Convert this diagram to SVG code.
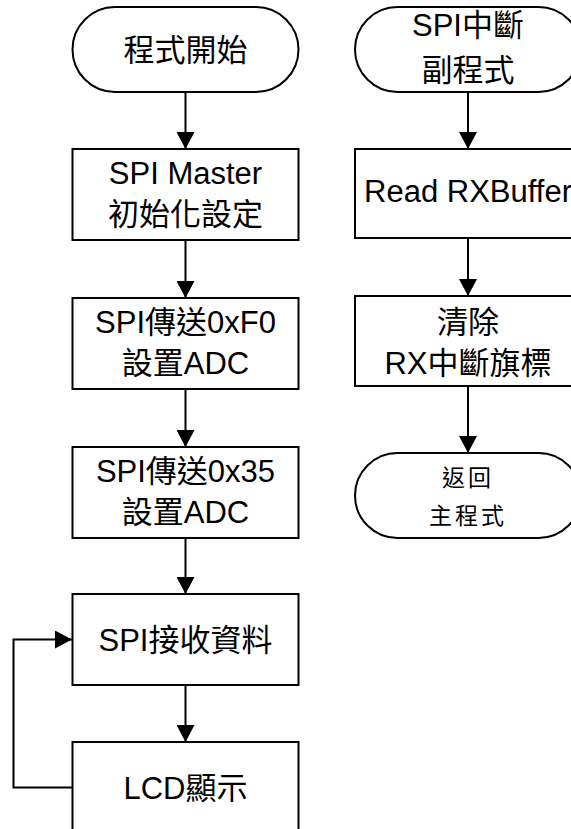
<svg xmlns="http://www.w3.org/2000/svg" width="571" height="829" viewBox="0 0 571 829">
<style>
.shape{fill:#fff;stroke:#000;stroke-width:2}
.t{font-family:"Liberation Sans","Noto Sans CJK TC",sans-serif;font-size:31px;fill:#000;text-anchor:middle}
.s{font-size:23px;letter-spacing:3px}
.c{fill:none;stroke:#000;stroke-width:2}
</style>
<defs>
<marker id="ah" markerWidth="18" markerHeight="18" refX="17" refY="9" orient="auto" markerUnits="userSpaceOnUse"><path d="M0,0 L17,9 L0,18 z" fill="#000"/></marker>
</defs>
<rect width="571" height="829" fill="#fff"/>
<g id="connectors">
<line class="c" x1="185.5" y1="92" x2="185.5" y2="149" marker-end="url(#ah)"/>
<line class="c" x1="185.5" y1="240" x2="185.5" y2="298" marker-end="url(#ah)"/>
<line class="c" x1="185.5" y1="389" x2="185.5" y2="447" marker-end="url(#ah)"/>
<line class="c" x1="185.5" y1="538" x2="185.5" y2="594" marker-end="url(#ah)"/>
<line class="c" x1="185.5" y1="685" x2="185.5" y2="742" marker-end="url(#ah)"/>
<polyline class="c" points="72,787.5 13.5,787.5 13.5,639.5 72,639.5" marker-end="url(#ah)"/>
<line class="c" x1="468" y1="92" x2="468" y2="149" marker-end="url(#ah)"/>
<line class="c" x1="468" y1="238" x2="468" y2="296" marker-end="url(#ah)"/>
<line class="c" x1="468" y1="386" x2="468" y2="453" marker-end="url(#ah)"/>
</g>
<g id="start">
<rect class="shape" x="72.5" y="7" width="226" height="85" rx="42.5" ry="42.5"/>
<text class="t" x="185.5" y="61">程式開始</text>
</g>
<g id="init">
<rect class="shape" x="72.5" y="149" width="226" height="91"/>
<text class="t" x="185.5" y="184">SPI Master</text>
<text class="t" x="185.5" y="225">初始化設定</text>
</g>
<g id="sendF0">
<rect class="shape" x="72.5" y="298" width="226" height="91"/>
<text class="t" x="185.5" y="333">SPI傳送0xF0</text>
<text class="t" x="185.5" y="374">設置ADC</text>
</g>
<g id="send35">
<rect class="shape" x="72.5" y="447" width="226" height="91"/>
<text class="t" x="185.5" y="482">SPI傳送0x35</text>
<text class="t" x="185.5" y="523">設置ADC</text>
</g>
<g id="receive">
<rect class="shape" x="72.5" y="594" width="226" height="91"/>
<text class="t" x="185.5" y="651">SPI接收資料</text>
</g>
<g id="lcd">
<rect class="shape" x="72.5" y="742" width="226" height="91"/>
<text class="t" x="185.5" y="799">LCD顯示</text>
</g>
<g id="isr">
<rect class="shape" x="355" y="7" width="226" height="85" rx="42.5" ry="42.5"/>
<text class="t" x="468" y="36">SPI中斷</text>
<text class="t" x="468" y="81">副程式</text>
</g>
<g id="readbuf">
<rect class="shape" x="355" y="149" width="226" height="89"/>
<text class="t" x="468" y="202">Read RXBuffer</text>
</g>
<g id="clearflag">
<rect class="shape" x="355" y="296" width="226" height="90"/>
<text class="t" x="468" y="333">清除</text>
<text class="t" x="468" y="374">RX中斷旗標</text>
</g>
<g id="return">
<rect class="shape" x="355" y="453" width="226" height="85" rx="42.5" ry="42.5"/>
<text class="t s" x="468" y="486">返回</text>
<text class="t s" x="468" y="524">主程式</text>
</g>
</svg>
